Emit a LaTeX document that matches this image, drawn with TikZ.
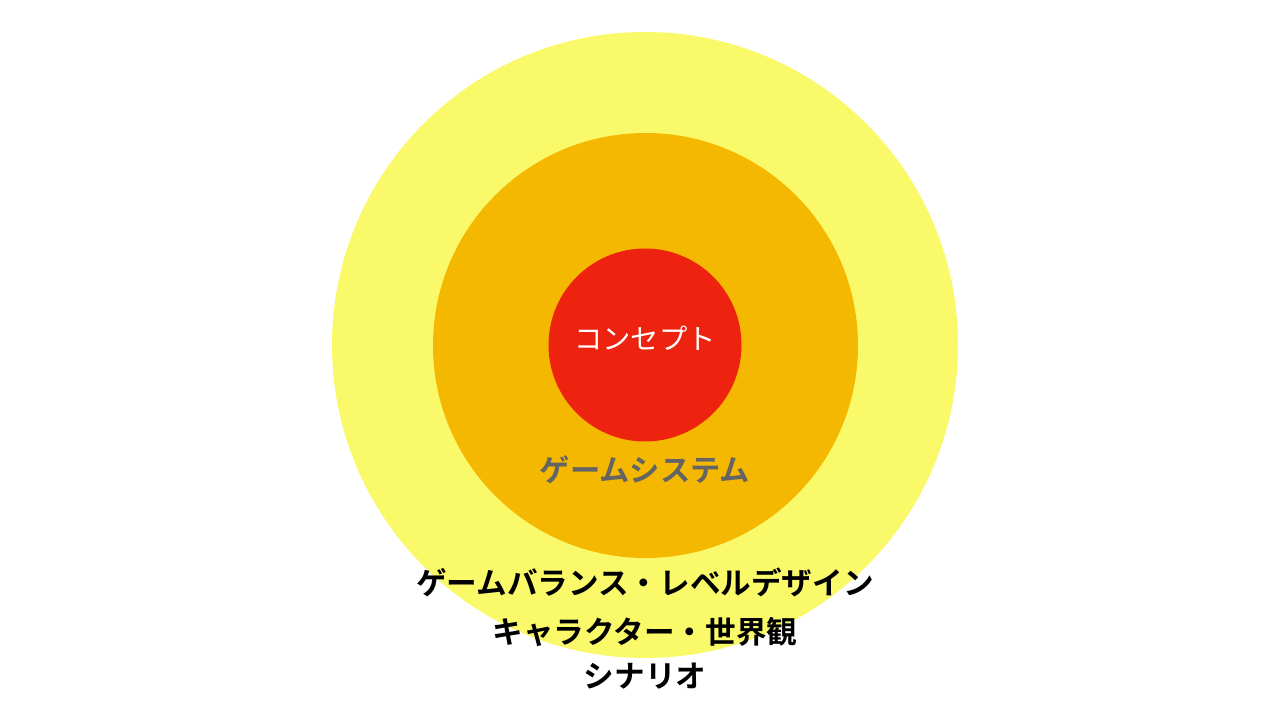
\documentclass[tikz,border=0pt]{standalone}
\usepackage{fontspec}
\newfontfamily\jp{Noto Sans CJK JP}
\newfontfamily\jpb{Noto Sans CJK JP Bold}
\definecolor{cyellow}{RGB}{250,249,106}
\definecolor{corange}{RGB}{245,184,0}
\definecolor{cred}{RGB}{237,34,15}
\definecolor{cgray}{RGB}{100,100,100}
\begin{document}
\begin{tikzpicture}[x=1pt,y=1pt,
  ring/.style={circle,draw=none,inner sep=0pt},
  lbl/.style={inner sep=0pt,anchor=center}]
\useasboundingbox (0,0) rectangle (1280,712);
\fill[white] (0,0) rectangle (1280,712);
\node[ring,fill=cyellow,minimum size=626pt] (outer) at (645,367) {};
\node[ring,fill=corange,minimum size=425pt] (mid) at (645.5,366.5) {};
\node[ring,fill=cred,minimum size=193pt] (inner) at (645,367) {};
\node[lbl,text=white,font=\jp\fontsize{28.3}{32}\selectfont] (t1) at (645,374) {コンセプト};
\node[lbl,text=cgray,font=\jpb\fontsize{30.3}{34}\selectfont] (t2) at (645,242) {ゲームシステム};
\node[lbl,text=black,font=\jpb\fontsize{30.6}{34}\selectfont] (t3) at (645,130) {ゲームバランス・レベルデザイン};
\node[lbl,text=black,font=\jpb\fontsize{30.6}{34}\selectfont] (t4) at (645,80) {キャラクター・世界観};
\node[lbl,text=black,font=\jpb\fontsize{30.6}{34}\selectfont] (t5) at (645,36) {シナリオ};
\end{tikzpicture}
\end{document}
